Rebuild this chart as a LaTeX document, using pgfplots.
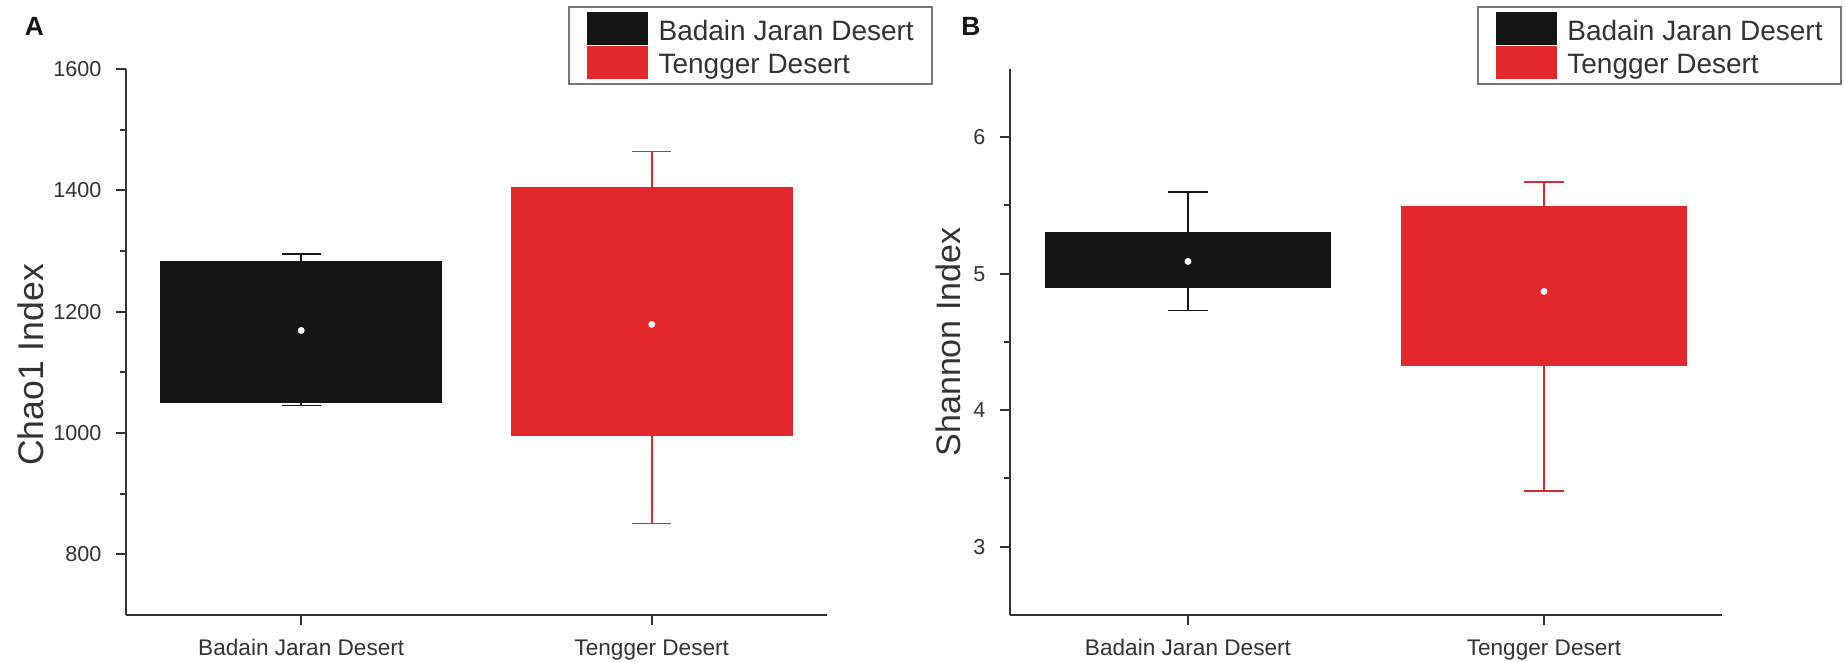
\documentclass[border=0pt]{standalone}
\usepackage{pgfplots}
\pgfplotsset{compat=1.18}
\usepgfplotslibrary{statistics}
\usepackage{fontspec}
\setmainfont{Liberation Sans}
\definecolor{barblack}{HTML}{151515}
\definecolor{barred}{HTML}{E2282A}
\definecolor{axisgray}{HTML}{333333}
\definecolor{leggray}{HTML}{777777}

\pgfplotsset{
  mystyle/.style={
    scale only axis,
    anchor=south west,
    height=136.5pt,
    axis lines=left,
    axis line style={-, draw=axisgray, line width=0.6pt},
    tick style={draw=axisgray, line width=0.5pt},
    tick align=outside,
    major tick length=2.6pt,
    minor tick length=1.6pt,
    xmin=0.5, xmax=2.5,
    xtick={1,2},
    xticklabels={Badain Jaran Desert, Tengger Desert},
    minor y tick num=1,
    boxplot/draw direction=y,
    /pgf/number format/assume math mode=true,
    /pgf/number format/1000 sep={},
    yticklabel style={font=\fontsize{5.4}{6}\selectfont, text=axisgray},
    xticklabel style={font=\fontsize{5.65}{6.5}\selectfont, text=axisgray},
    legend style={
      anchor=north east,
      draw=leggray, line width=0.5pt,
      font=\fontsize{7}{8}\selectfont,
      text=axisgray,
      inner xsep=4.5pt, inner ysep=1.2pt,
      row sep=-0.1pt, column sep=2.6pt,
      nodes={inner sep=0pt},
    },
    legend cell align=left,
    clip=false,
  },
  blackleg/.style={legend image code/.code={\fill[barblack] (0pt,-2.8pt) rectangle (14.75pt,5.0pt);}},
  redleg/.style={legend image code/.code={\fill[barred] (0pt,-2.8pt) rectangle (14.75pt,5.0pt);}},
}

\begin{document}
\begin{tikzpicture}
\path[use as bounding box] (0pt,0pt) rectangle (461.25pt,165.5pt);

% Panel A
\begin{axis}[mystyle,
  at={(31.5pt,11.75pt)},
  width=175.25pt,
  ymin=700, ymax=1600,
  ytick={800,1000,1200,1400,1600},
  ylabel={Chao1 Index},
  ylabel style={at={(axis description cs:-0.1355,0.458)}, anchor=center, font=\fontsize{8.9}{10}\selectfont, text=axisgray},
  legend style={at={(1.151,1.115)}},
]
\addlegendimage{blackleg}\addlegendentry{Badain Jaran Desert}
\addlegendimage{redleg}\addlegendentry{Tengger Desert}
\addplot[forget plot, draw=barblack, fill=barblack, line width=0.4pt,
  boxplot prepared={draw position=1, lower whisker=1045, lower quartile=1051,
    median=1169, upper quartile=1283, upper whisker=1295,
    box extend=0.8, whisker extend=0.11}] coordinates {};
\addplot[forget plot, draw=barred, fill=barred, line width=0.4pt,
  boxplot prepared={draw position=2, lower whisker=851, lower quartile=997,
    median=1179, upper quartile=1405, upper whisker=1464,
    box extend=0.8, whisker extend=0.11}] coordinates {};
\addplot[forget plot, only marks, mark=*, mark size=0.65pt, draw=white, fill=white]
  coordinates {(1,1169) (2,1179)};
\end{axis}

% Panel B
\begin{axis}[mystyle,
  at={(252.5pt,11.75pt)},
  width=178pt,
  ymin=2.5, ymax=6.5,
  ytick={3,4,5,6},
  ylabel={Shannon Index},
  ylabel style={at={(axis description cs:-0.087,0.5)}, anchor=center, font=\fontsize{8.5}{10}\selectfont, text=axisgray},
  legend style={at={(1.168,1.115)}},
]
\addlegendimage{blackleg}\addlegendentry{Badain Jaran Desert}
\addlegendimage{redleg}\addlegendentry{Tengger Desert}
\addplot[forget plot, draw=barblack, fill=barblack, line width=0.4pt,
  boxplot prepared={draw position=1, lower whisker=4.73, lower quartile=4.90,
    median=5.09, upper quartile=5.30, upper whisker=5.60,
    box extend=0.8, whisker extend=0.11}] coordinates {};
\addplot[forget plot, draw=barred, fill=barred, line width=0.4pt,
  boxplot prepared={draw position=2, lower whisker=3.41, lower quartile=4.33,
    median=4.87, upper quartile=5.49, upper whisker=5.67,
    box extend=0.8, whisker extend=0.11}] coordinates {};
\addplot[forget plot, only marks, mark=*, mark size=0.65pt, draw=white, fill=white]
  coordinates {(1,5.09) (2,4.87)};
\end{axis}

\node[font=\bfseries\fontsize{6.6}{8}\selectfont, text=barblack] at (8.6pt,158.9pt) {A};
\node[font=\bfseries\fontsize{6.6}{8}\selectfont, text=barblack] at (242.75pt,158.9pt) {B};
\end{tikzpicture}
\end{document}
